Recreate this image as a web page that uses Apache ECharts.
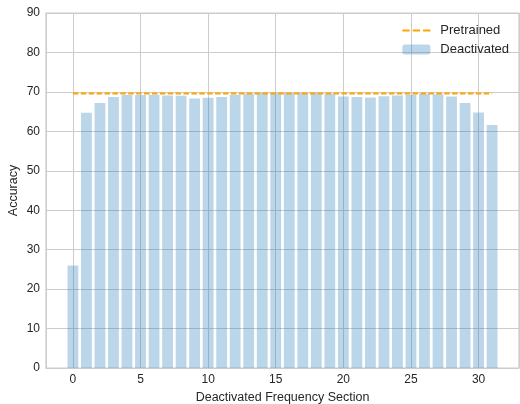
<!DOCTYPE html>
<html>
<head>
<meta charset="utf-8">
<script src="https://cdn.jsdelivr.net/npm/echarts@6/dist/echarts.min.js"></script>
<style>html,body{margin:0;padding:0;background:#fff;}#c{width:520px;height:404px;}</style>
</head>
<body>
<div id="c"></div>
<script>
const sections = [0,1,2,3,4,5,6,7,8,9,10,11,12,13,14,15,16,17,18,19,20,21,22,23,24,25,26,27,28,29,30,31];
const deactivated = [26.0,64.7,67.2,68.7,69.2,69.2,69.3,69.1,69.0,68.3,68.5,68.7,69.3,69.5,69.7,69.7,69.75,69.7,69.7,69.5,68.8,68.7,68.6,68.9,69.1,69.3,69.5,69.4,68.8,67.2,64.8,61.6];
const pretrained = 69.6;
const pretrainedRange = [0, 31];

const chart = echarts.init(document.getElementById('c'), null, {renderer:'canvas'});
const font = 'Liberation Sans, Arial, sans-serif';
const txt = '#262626';
chart.setOption({
  animation: false,
  backgroundColor: '#ffffff',
  grid: {left: 46, right: 1, top: 13, bottom: 36, show: true, borderColor: '#cccccc', borderWidth: 1.25, containLabel: false, outerBoundsMode: 'none'},
  legend: {
    orient: 'vertical', right: 6, top: 19, align: 'left',
    itemWidth: 28, itemHeight: 10, itemGap: 6,
    textStyle: {fontFamily: font, fontSize: 13, color: txt, padding: [0,0,0,5]},
    data: [
      {name: 'Pretrained', icon: 'path://M0,0h7v2h-7z M10,0h7v2h-7z M20,0h7v2h-7z', itemStyle: {color: '#ffa500'}},
      {name: 'Deactivated', itemStyle: {color: 'rgba(31,119,180,0.3)'}}
    ]
  },
  xAxis: {
    type: 'value', min: -1.99, max: 32.99, splitNumber: 7,
    name: 'Deactivated Frequency Section', nameLocation: 'middle', nameGap: 18,
    nameTextStyle: {fontFamily: font, fontSize: 12.5, color: txt},
    axisLine: {show: false}, axisTick: {show: false},
    axisLabel: {fontFamily: font, fontSize: 12, color: txt, margin: 6,
      formatter: v => (Math.abs(v % 5) < 1e-6 ? String(Math.round(v)) : '')},
    splitLine: {show: true, lineStyle: {color: '#cccccc', width: 1}}
  },
  yAxis: {
    type: 'value', min: 0, max: 90, interval: 10,
    name: 'Accuracy', nameLocation: 'middle', nameGap: 26, nameMoveOverlap: false,
    nameTextStyle: {fontFamily: font, fontSize: 12.5, color: txt},
    axisLine: {show: false}, axisTick: {show: false},
    axisLabel: {fontFamily: font, fontSize: 12, color: txt, margin: 6},
    splitLine: {show: true, lineStyle: {color: '#cccccc', width: 1}}
  },
  series: [
    {
      name: 'Deactivated', type: 'bar', barWidth: 10.8,
      itemStyle: {color: 'rgba(31,119,180,0.3)'},
      data: sections.map((s, i) => [s, deactivated[i]]),
      z: 2
    },
    {
      name: 'Pretrained', type: 'line', symbol: 'none',
      itemStyle: {color: '#ffa500'},
      lineStyle: {color: '#ffa500', width: 2, type: [5.5, 2.4]},
      data: pretrainedRange.map(x => [x, pretrained]),
      z: 3
    }
  ]
});
</script>
</body>
</html>
